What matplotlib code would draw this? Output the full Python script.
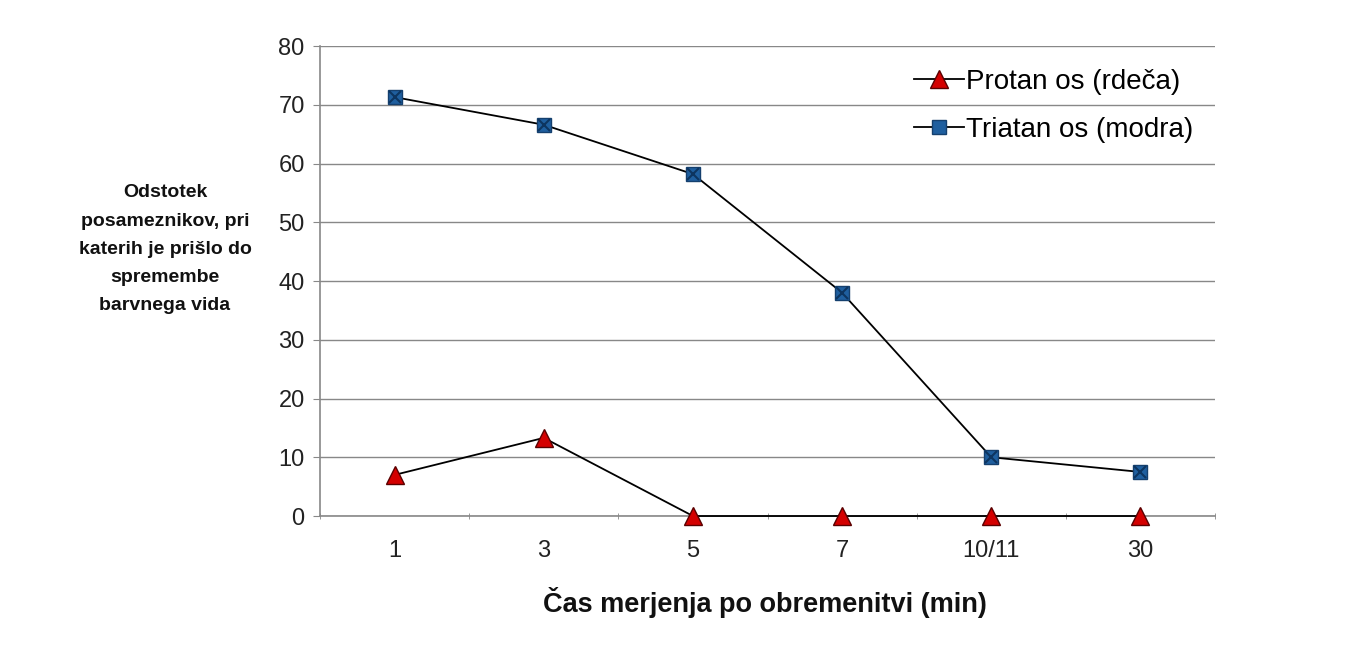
import matplotlib.pyplot as plt
import numpy as np

plt.rcParams['font.family'] = ['Liberation Sans', 'DejaVu Sans']

# data
categories = ["1", "3", "5", "7", "10/11", "30"]
protan = [7.0, 13.3, 0, 0, 0, 0]
triatan = [71.3, 66.6, 58.2, 38.0, 10.0, 7.5]

fig = plt.figure(figsize=(13.52, 6.66), dpi=100)
ax = fig.add_axes([0.2367, 0.2252, 0.662, 0.7057])

x = np.arange(len(categories))
ax.plot(x, protan, color='black', lw=1.3, marker='^', ms=13, clip_on=False,
        mfc='#d40000', mec='#5a0000', mew=1, label='Protan os (rdeča)', zorder=3)
ax.plot(x, triatan, color='black', lw=1.3, marker='s', ms=10, clip_on=False,
        mfc='#1f5f9f', mec='#15406e', mew=1, label='Triatan os (modra)', zorder=3)
ax.plot(x, triatan, ls='none', marker='x', ms=9, mec='#0d3560', mew=1.5, zorder=4)

ax.set_xlim(-0.5, len(categories) - 0.5)
ax.set_ylim(0, 80)
ax.set_yticks(range(0, 81, 10))
ax.set_xticks(x)
ax.set_xticklabels(categories)
ax.set_xticks(np.arange(-0.5, len(categories), 1), minor=True)
ax.tick_params(axis='x', which='major', length=0, pad=17, labelsize=17, labelcolor='#222222')
ax.tick_params(axis='x', which='minor', length=4, color='#888888', direction='inout')
ax.tick_params(axis='y', length=5, color='#888888', labelsize=17, pad=6, labelcolor='#222222')

ax.yaxis.grid(True, color='#888888', lw=1)
ax.set_axisbelow(True)
for s in ['top', 'right']:
    ax.spines[s].set_visible(False)
for s in ['left', 'bottom']:
    ax.spines[s].set_color('#888888')
    ax.spines[s].set_linewidth(1.2)

fig.text(0.122, 0.626, "Odstotek\nposameznikov, pri\nkaterih je prišlo do\nspremembe\nbarvnega vida",
         ha='center', va='center', fontsize=14, fontweight='bold', linespacing=1.85,
         color='#111111')
fig.text(0.566, 0.0946, "Čas merjenja po obremenitvi (min)", ha='center', va='center',
         fontsize=19.5, fontweight='bold', color='#111111')

ax.legend(loc='upper right', bbox_to_anchor=(0.976, 0.952), frameon=False, fontsize=20,
          handlelength=1.8, handletextpad=0.1, labelspacing=0.8, borderaxespad=0,
          borderpad=0)

fig.savefig('out.png', dpi=100)
